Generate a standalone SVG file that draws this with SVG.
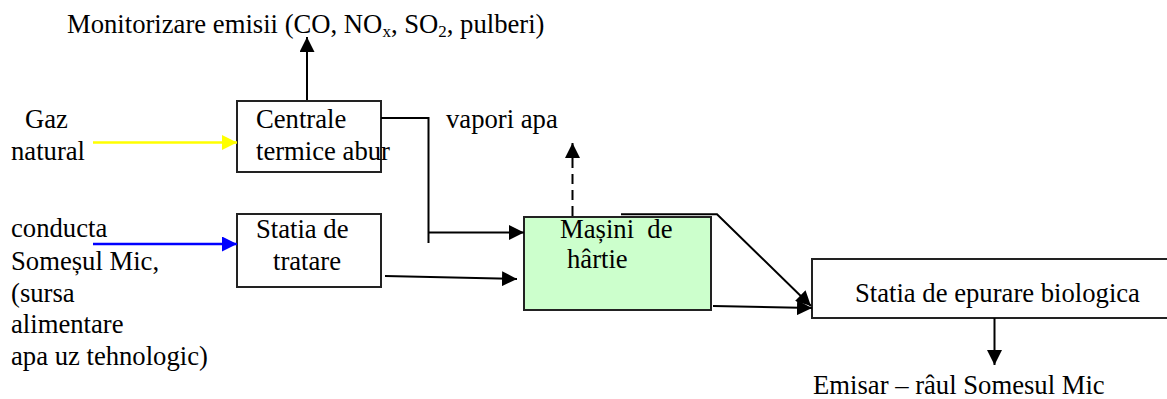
<svg xmlns="http://www.w3.org/2000/svg" width="1167" height="399" viewBox="0 0 1167 399" font-family="'Liberation Serif','Times New Roman',serif">
<style>
text{font-family:"Liberation Serif","Times New Roman",serif;font-size:26.67px;fill:#000}
.box{fill:#fff;stroke:#222;stroke-width:2}
.c{fill:none;stroke:#000;stroke-width:2}
.sub{font-size:17px}
</style>
<defs>
<marker id="ah" viewBox="0 0 10 10" refX="10" refY="5" markerUnits="userSpaceOnUse" markerWidth="15" markerHeight="15" orient="auto"><path d="M0,0L10,5L0,10z" fill="#000"/></marker>
<marker id="ahy" viewBox="0 0 10 10" refX="10" refY="5" markerUnits="userSpaceOnUse" markerWidth="15" markerHeight="15" orient="auto"><path d="M0,0L10,5L0,10z" fill="#ffff00"/></marker>
<marker id="ahb" viewBox="0 0 10 10" refX="10" refY="5" markerUnits="userSpaceOnUse" markerWidth="15" markerHeight="15" orient="auto"><path d="M0,0L10,5L0,10z" fill="#0000ff"/></marker>
</defs>
<g id="labels">
<text x="67" y="33">Monitorizare emisii (CO, NO<tspan class="sub" dy="4">x</tspan><tspan dy="-4">, SO</tspan><tspan class="sub" dy="4">2</tspan><tspan dy="-4">, pulberi)</tspan></text>
<text x="25" y="128">Gaz</text>
<text x="11" y="160">natural</text>
<text x="11" y="237">conducta</text>
<text x="11" y="270">Someșul Mic,</text>
<text x="11" y="302">(sursa</text>
<text x="11" y="333">alimentare</text>
<text x="11" y="365">apa uz tehnologic)</text>
<text x="446" y="128">vapori apa</text>
<text x="813" y="394">Emisar – râul Somesul Mic</text>
</g>
<g id="centrale">
<rect class="box" x="237" y="101" width="144" height="71"/>
<text x="256" y="128">Centrale</text>
<text x="256" y="160">termice abur</text>
</g>
<g id="statia">
<rect class="box" x="237" y="214" width="144" height="73"/>
<text x="256" y="238">Statia de</text>
<text x="273" y="270">tratare</text>
</g>
<g id="masini">
<rect class="box" x="524" y="217" width="187" height="93" style="fill:#ccffcc"/>
<text x="560" y="238" xml:space="preserve">Mașini  de</text>
<text x="567" y="268">hârtie</text>
</g>
<g id="epurare">
<rect class="box" x="812" y="259" width="370" height="59"/>
<text x="855" y="302">Statia de epurare biologica</text>
</g>
<g id="connectors">
<line class="c" x1="307" y1="100" x2="307" y2="37" marker-end="url(#ah)"/>
<line x1="93" y1="142.5" x2="237" y2="142.5" stroke="#ffff00" stroke-width="2.5" marker-end="url(#ahy)"/>
<line x1="93" y1="244" x2="237" y2="244" stroke="#0000ff" stroke-width="2.5" marker-end="url(#ahb)"/>
<polyline class="c" points="381,118 428.5,118 428.5,243"/>
<line class="c" x1="428.5" y1="232.5" x2="524" y2="232.5" marker-end="url(#ah)"/>
<line class="c" x1="385" y1="276" x2="517" y2="279" marker-end="url(#ah)"/>
<line class="c" x1="572.5" y1="216" x2="572.5" y2="143" stroke-dasharray="10,6" marker-end="url(#ah)"/>
<polyline class="c" points="621,214.3 717,214.3 811,306" marker-end="url(#ah)"/>
<line class="c" x1="713" y1="306" x2="812" y2="308" marker-end="url(#ah)"/>
<line class="c" x1="994.5" y1="318" x2="994.5" y2="365" marker-end="url(#ah)"/>
</g>
</svg>
